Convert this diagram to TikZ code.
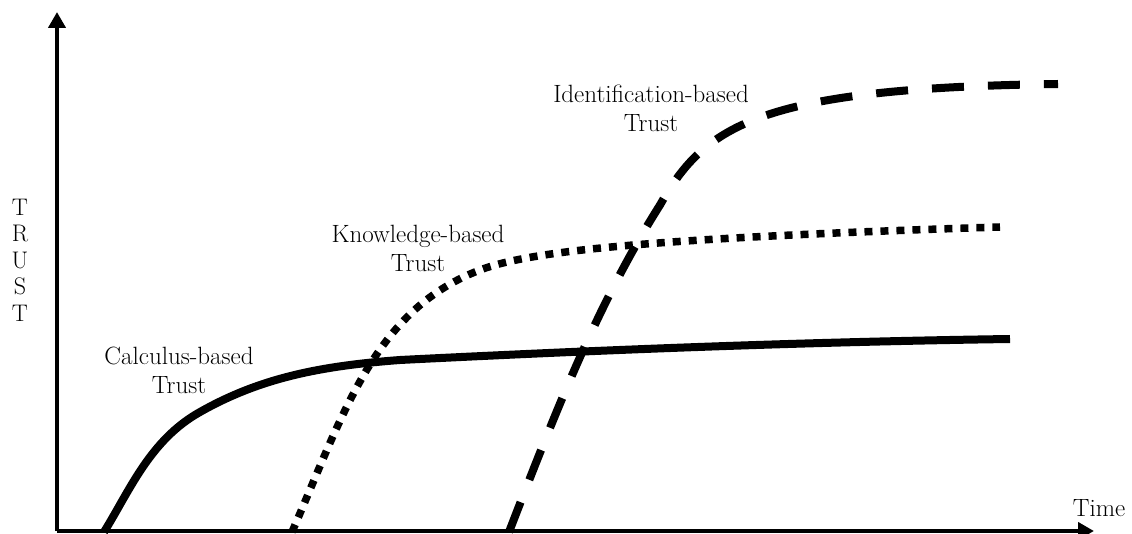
\documentclass[tikz,border=0pt]{standalone}
\usetikzlibrary{arrows.meta}
\begin{document}
\begin{tikzpicture}[x=1pt,y=-1pt,
  axis/.style={line width=4.5pt,-{Triangle[width=17pt,length=16pt]}},
  curve/.style={line width=8pt},
  dottedcurve/.style={line width=7.5pt,dash pattern=on 8pt off 8pt},
  dashedcurve/.style={line width=8pt,dash pattern=on 32pt off 24pt},
  lbl/.style={font=\fontsize{25}{29}\selectfont,align=center,inner sep=0pt}]
\useasboundingbox (0,0) rectangle (1132,534);
\coordinate (O) at (57,531);
\coordinate (ytop) at (57,12);
\coordinate (xend) at (1094,531);
\draw[axis] (O) -- (ytop);
\draw[axis] (O) -- (xend);
% Calculus-based (solid)
\coordinate (c0) at (104,532);
\coordinate (c1) at (200,412);
\coordinate (c2) at (400,360);
\coordinate (c3) at (1010,339);
\draw[curve] (c0) .. controls (130,490) and (150,440) .. (c1)
  .. controls (260,378) and (320,366) .. (c2)
  .. controls (600,350) and (800,342) .. (c3);
% Knowledge-based (dotted)
\coordinate (k0) at (292,532);
\coordinate (k1) at (480,270);
\coordinate (k2) at (1000,227);
\draw[dottedcurve] (k0) .. controls (345,410) and (375,310) .. (k1)
  .. controls (530,251) and (650,238) .. (k2);
% Identification-based (dashed)
\coordinate (i0) at (509,532);
\coordinate (i1) at (660,205);
\coordinate (i2) at (1058,84);
\draw[dashedcurve] (i0) .. controls (560,400) and (600,300) .. (i1)
  .. controls (705,125) and (760,88) .. (i2);
\node[lbl] (idl) at (651,108) {Identification-based\\Trust};
\node[lbl] (kl) at (418,248) {Knowledge-based\\Trust};
\node[lbl] (cl) at (179,370) {Calculus-based\\Trust};
\node[lbl,anchor=base] (tl) at (1099,516) {Time};
\node[lbl,font=\fontsize{24}{26.5}\selectfont] (yl) at (20,260) {T\\R\\U\\S\\T};
\end{tikzpicture}
\end{document}
